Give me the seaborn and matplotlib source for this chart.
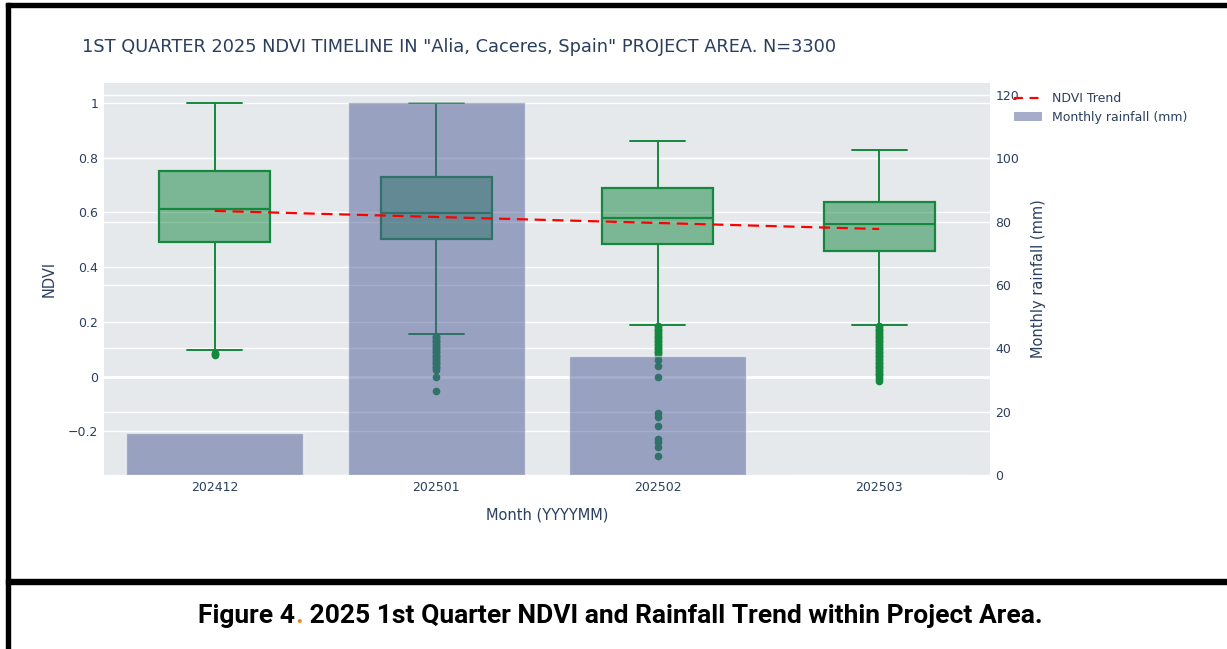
import matplotlib
matplotlib.use("Agg")
import matplotlib.pyplot as plt
import matplotlib.patches as mpatches
from matplotlib.lines import Line2D
from matplotlib.transforms import blended_transform_factory
import seaborn as sns
import pandas as pd

# ── data ──
months = ["202412", "202501", "202502", "202503"]
rainfall_mm = [13.3, 117.8, 37.6, 0.0]
ndvi_q1 = [0.491, 0.502, 0.484, 0.458]
ndvi_median = [0.612, 0.597, 0.579, 0.557]
ndvi_q3 = [0.751, 0.729, 0.689, 0.638]
ndvi_whislo = [0.097, 0.156, 0.189, 0.189]
ndvi_whishi = [1.0, 1.0, 0.86, 0.827]
ndvi_trend = [0.605, 0.583, 0.561, 0.539]
outliers_202412 = [0.088, 0.082, 0.079]
outliers_202501 = [0.15, 0.145, 0.14, 0.135, 0.13, 0.125, 0.12, 0.115, 0.11, 0.105,
                   0.10, 0.095, 0.09, 0.085, 0.08, 0.075, 0.07, 0.065, 0.06, 0.055,
                   0.05, 0.045, 0.04, 0.035, 0.03, 0.025, 0.0, -0.051]
outliers_202502 = [0.185, 0.18, 0.175, 0.17, 0.165, 0.16, 0.155, 0.15, 0.145, 0.14,
                   0.135, 0.13, 0.125, 0.12, 0.115, 0.11, 0.105, 0.10, 0.095, 0.09,
                   0.085, 0.08, 0.061, 0.04, 0.0, -0.133, -0.146, -0.18, -0.228,
                   -0.24, -0.255, -0.289]
outliers_202503 = [0.185, 0.18, 0.175, 0.17, 0.165, 0.16, 0.155, 0.15, 0.145, 0.14,
                   0.135, 0.13, 0.125, 0.12, 0.115, 0.11, 0.105, 0.10, 0.095, 0.09,
                   0.085, 0.08, 0.075, 0.07, 0.065, 0.06, 0.055, 0.05, 0.045, 0.04,
                   0.035, 0.03, 0.025, 0.02, 0.015, 0.01, 0.005, 0.0, -0.008, -0.016]
outliers = [outliers_202412, outliers_202501, outliers_202502, outliers_202503]

ndvi_ticks = [-0.2, 0, 0.2, 0.4, 0.6, 0.8, 1]
ndvi_tick_labels = ["\u22120.2", "0", "0.2", "0.4", "0.6", "0.8", "1"]
rain_ticks = [0, 20, 40, 60, 80, 100, 120]

title = '1ST QUARTER 2025 NDVI TIMELINE IN "Alia, Caceres, Spain" PROJECT AREA. N=3300'
caption_start = "Figure 4"
caption_rest = " 2025 1st Quarter NDVI and Rainfall Trend within Project Area."

# ── style ──
sns.set_theme(style="white")
plt.rcParams["font.family"] = ["DejaVu Sans"]
TXT = "#2a3f5f"
BG = "#E6E9EC"
GREEN = "#15883F"
BAR = "#4C5C96"

fig = plt.figure(figsize=(12.27, 6.49), dpi=100)
ax1 = fig.add_axes([104 / 1227, 1 - 475 / 649, 886 / 1227, 392 / 649])
ax1.set_facecolor(BG)
for s in ax1.spines.values():
    s.set_visible(False)

# boxes (primary axis)
stats = []
for i, m in enumerate(months):
    stats.append(dict(label=m, med=ndvi_median[i], q1=ndvi_q1[i], q3=ndvi_q3[i],
                      whislo=ndvi_whislo[i], whishi=ndvi_whishi[i], fliers=outliers[i]))
ax1.bxp(stats, positions=range(len(months)), widths=0.5, capwidths=0.25,
        patch_artist=True, showfliers=True,
        boxprops=dict(facecolor=(0.08, 0.53, 0.25, 0.5), edgecolor=GREEN, linewidth=1.6),
        medianprops=dict(color=GREEN, linewidth=1.6),
        whiskerprops=dict(color=GREEN, linewidth=1.4),
        capprops=dict(color=GREEN, linewidth=1.4),
        flierprops=dict(marker="o", markersize=4.5, markerfacecolor=GREEN,
                        markeredgecolor=GREEN, linestyle="none"))
ax1.set_ylim(-0.359, 1.072)
ax1.set_yticks(ndvi_ticks)
ax1.set_yticklabels(ndvi_tick_labels)
ax1.set_axisbelow(True)
ax1.yaxis.grid(True, color="white", linewidth=1)
ax1.axhline(0, color="white", linewidth=2, zorder=0.6)

# rainfall bars (secondary axis, drawn on top)
ax2 = ax1.twinx()
for s in ax2.spines.values():
    s.set_visible(False)
rain_df = pd.DataFrame({"month": months, "rain": rainfall_mm})
sns.barplot(data=rain_df, x="month", y="rain", order=months, color=BAR, alpha=0.5,
            saturation=1, width=0.8, ax=ax2)
ax2.set_ylim(0, 123.8)
ax2.set_yticks(rain_ticks)
ax2.set_yticklabels([str(v) for v in rain_ticks])
ax2.grid(False)
ax2.set_ylabel("Monthly rainfall (mm)", color=TXT, fontsize=10.5, labelpad=8)
ax2.set_xlabel("")

# rainfall grid lines drawn beneath everything
tr = blended_transform_factory(ax1.transAxes, ax2.transData)
for v in rain_ticks:
    ax1.plot([0, 1], [v, v], transform=tr, color="white", linewidth=1, zorder=0.55)

# trend line on top of bars, in NDVI units
ax2.plot(range(len(months)), ndvi_trend, transform=ax1.transData, color="red",
         linestyle=(0, (5, 3)), linewidth=1.6, zorder=5)

ax1.set_xlim(-0.5, len(months) - 0.5)
ax1.set_xticks(range(len(months)))
ax1.set_xticklabels(months)
ax1.set_xlabel("Month (YYYYMM)", color=TXT, fontsize=10.5, labelpad=10)
ax1.set_ylabel("NDVI", color=TXT, fontsize=10.5, labelpad=8)
for ax in (ax1, ax2):
    ax.tick_params(axis="both", length=0, labelsize=9, colors=TXT, pad=4)

fig.text(82 / 1227, 1 - 47 / 649, title, color=TXT, fontsize=12.8, ha="left", va="center")

handles = [Line2D([0], [0], color="red", linestyle=(0, (4, 3)), linewidth=1.6),
           mpatches.Patch(facecolor=BAR, alpha=0.5, edgecolor="none")]
fig.legend(handles, ["NDVI Trend", "Monthly rainfall (mm)"], loc="upper left",
           bbox_to_anchor=(1003 / 1227, 1 - 81 / 649), frameon=False, fontsize=9,
           labelcolor=TXT, handlelength=2.2, handletextpad=0.8, labelspacing=0.45)

# frame lines
fig.add_artist(mpatches.Rectangle((6 / 1227, 0), 4 / 1227, 1 - 3 / 649,
                                  transform=fig.transFigure, color="black"))
fig.add_artist(mpatches.Rectangle((6 / 1227, 1 - 7 / 649), 1, 4 / 649,
                                  transform=fig.transFigure, color="black"))
fig.add_artist(mpatches.Rectangle((6 / 1227, 1 - 584 / 649), 1, 5 / 649,
                                  transform=fig.transFigure, color="black"))

# caption with orange dot
cap_font = dict(family=["Roboto", "DejaVu Sans"], fontweight="bold", fontsize=19,
                color="black")
t1 = fig.text(198 / 1227, 1 - 616 / 649, caption_start, ha="left", va="center", **cap_font)
t2 = ax1.annotate(".", xy=(1, 0), xycoords=t1, ha="left", va="bottom",
                  annotation_clip=False, **{**cap_font, "color": "#F08A24"})
ax1.annotate(caption_rest, xy=(1, 0), xycoords=t2, ha="left", va="bottom",
             annotation_clip=False, **cap_font)

fig.savefig("out.png", dpi=100)
